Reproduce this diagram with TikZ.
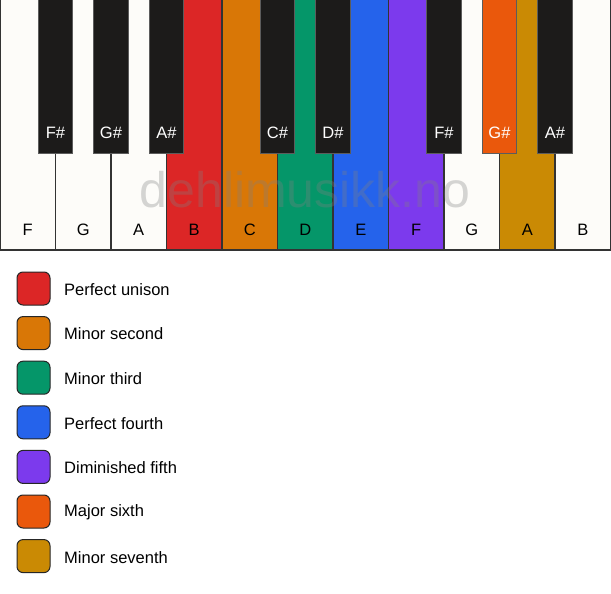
\documentclass[tikz,border=0pt]{standalone}
\usepackage{fontspec}
\setmainfont{Liberation Sans}
\definecolor{keywhite}{HTML}{FDFCF9}
\definecolor{keyblack}{HTML}{1C1B1A}
\definecolor{keyedge}{HTML}{333333}
\definecolor{cUnison}{HTML}{DC2626}
\definecolor{cSecond}{HTML}{D97706}
\definecolor{cThird}{HTML}{059669}
\definecolor{cFourth}{HTML}{2563EB}
\definecolor{cFifth}{HTML}{7C3AED}
\definecolor{cSixth}{HTML}{EA580C}
\definecolor{cSeventh}{HTML}{CA8A04}
\tikzset{
  whitekey/.style={draw=keyedge, line width=1.5pt, fill=keywhite, rectangle, anchor=north west,
    minimum width=55.5pt, minimum height=251pt, inner sep=0pt, outer sep=0pt},
  blackkey/.style={draw=keyedge!80!white, line width=1pt, fill=keyblack, rectangle, anchor=north,
    minimum width=34.5pt, minimum height=155pt, inner sep=0pt, outer sep=0pt},
  wlabel/.style={font=\fontsize{16.5}{18}\selectfont, text=black},
  blabel/.style={font=\fontsize{16.5}{18}\selectfont, text=white},
  swatch/.style={draw=black!85, line width=1pt, rounded corners=6pt, minimum width=33pt, minimum height=33pt, inner sep=0pt},
  legtext/.style={font=\fontsize{16.5}{18}\selectfont, anchor=west, inner sep=0pt},
  watermark/.style={font=\fontsize{50}{52}\selectfont, text=gray, text opacity=0.32}
}
\begin{document}
\begin{tikzpicture}[x=1pt,y=-1pt]
\useasboundingbox[fill=white] (0,0) rectangle (611,594);
\begin{scope}
\clip (0,0) rectangle (611,594);
% white keys
\foreach \i/\n/\c in {0/F/keywhite,1/G/keywhite,2/A/keywhite,3/B/cUnison,4/C/cSecond,5/D/cThird,6/E/cFourth,7/F/cFifth,8/G/keywhite,9/A/cSeventh,10/B/keywhite}{
  \node[whitekey, fill=\c] (w\i) at ({\i*55.5},-1) {};
  \node[wlabel] (wl\i) at ({\i*55.5+27.75},230) {\n};
}
\node[watermark] (wm) at (305,190) {dehlimusikk.no};
% black keys
\foreach \i/\n/\c in {1/F\#/keyblack,2/G\#/keyblack,3/A\#/keyblack,5/C\#/keyblack,6/D\#/keyblack,8/F\#/keyblack,9/G\#/cSixth,10/A\#/keyblack}{
  \node[blackkey, fill=\c] (b\i) at ({\i*55.5},-2) {};
  \node[blabel] (bl\i) at ({\i*55.5},133) {\n};
}
\end{scope}
% legend
\foreach \k/\c/\t in {0/cUnison/Perfect unison,1/cSecond/Minor second,2/cThird/Minor third,3/cFourth/Perfect fourth,4/cFifth/Diminished fifth,5/cSixth/Major sixth,6/cSeventh/Minor seventh}{
  \node[swatch, fill=\c] (s\k) at (33.5,{288.5+\k*44.6}) {};
  \node[legtext] (t\k) at (64,{289.5+\k*44.6}) {\t};
}
\end{tikzpicture}
\end{document}
